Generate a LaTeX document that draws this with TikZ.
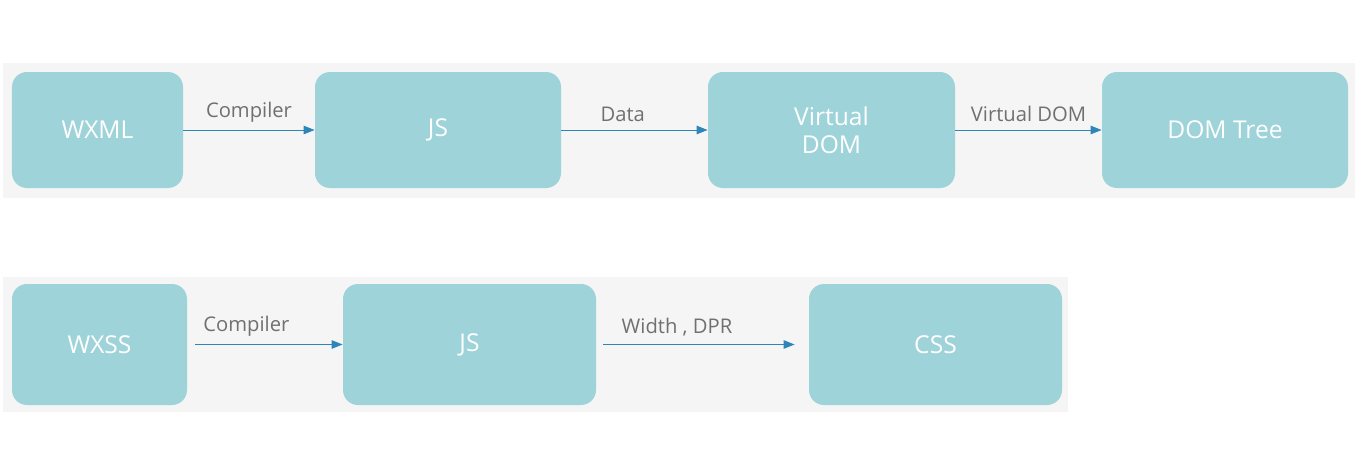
\documentclass[tikz,border=0pt]{standalone}
\usepackage{fontspec}
\setmainfont{Open Sans}
\usetikzlibrary{positioning, arrows.meta}
\definecolor{boxteal}{HTML}{9DD3D9}
\definecolor{panelgray}{HTML}{F5F5F5}
\definecolor{arrowblue}{HTML}{2E86B8}
\definecolor{labelgray}{HTML}{707070}

\begin{document}
\begin{tikzpicture}[
        box/.style={rectangle, rounded corners=0.3cm, fill=boxteal, text=white, minimum height=2.32cm, text centered, align=center, font=\fontsize{14}{16}\selectfont},
        lbl/.style={text=labelgray, font=\fontsize{11.5}{13}\selectfont},
        flow/.style={-{Triangle[length=2.2mm, width=1.7mm]}, arrowblue, line width=0.5pt}]
      \useasboundingbox (0,0) rectangle (27.32,9.4);
      % Panels
      \fill[panelgray] (0.06,5.44) rectangle (27.1,8.14);
      \fill[panelgray] (0.06,1.16) rectangle (21.36,3.86);

      % WXML pipeline
      \node[box, minimum width=3.42cm] (wxml) at (1.95,6.8) {WXML};
      \node[box, minimum width=4.92cm] (jsa) at (8.76,6.8) {JS};
      \node[box, minimum width=4.94cm] (vdom) at (16.63,6.8) {Virtual\\DOM};
      \node[box, minimum width=4.92cm] (domtree) at (24.5,6.8) {DOM Tree};

      \draw[flow] (wxml) -- node[lbl, above=1pt] {Compiler} (jsa);
      \draw[flow] (jsa) -- node[lbl, above=1pt, pos=0.42] {Data} (vdom);
      \draw[flow] (vdom) -- node[lbl, above=1pt] {Virtual DOM} (domtree);

      % WXSS pipeline
      \node[box, minimum width=3.5cm, minimum height=2.42cm] (wxss) at (1.99,2.51) {WXSS};
      \node[box, minimum width=5.06cm, minimum height=2.42cm] (jsb) at (9.39,2.51) {JS};
      \node[box, minimum width=5.06cm, minimum height=2.42cm] (css) at (18.71,2.51) {CSS};

      \draw[flow, shorten <=0.16cm] (wxss) -- node[lbl, above=1pt, pos=0.38] {Compiler} (jsb);
      \draw[flow, shorten <=0.14cm, shorten >=0.28cm] (jsb) -- node[lbl, above=1pt, pos=0.38] {Width , DPR} (css);
    \end{tikzpicture}
\end{document}
